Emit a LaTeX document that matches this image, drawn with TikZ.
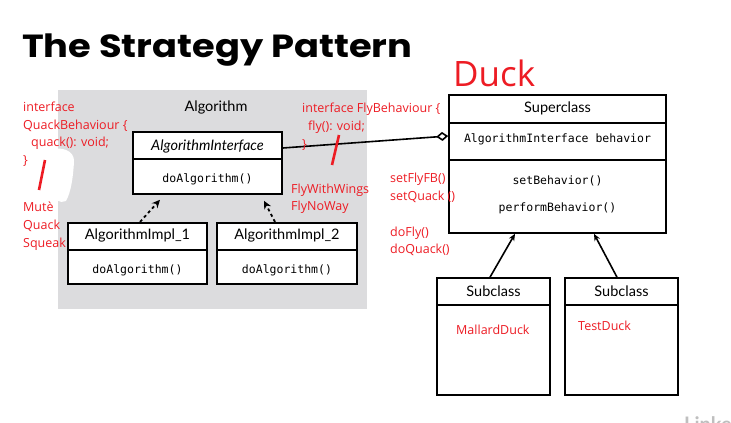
\documentclass[tikz,border=0pt]{standalone}
\usepackage{fontspec}
\setmainfont{Lato}
\newfontfamily\titlefont{Poppins}
\newfontfamily\redfont{Open Sans}
\newfontfamily\monofont{DejaVu Sans Mono}
\usetikzlibrary{arrows.meta,calc}
\definecolor{annot}{RGB}{237,28,36}
\definecolor{panel}{RGB}{220,220,222}
\tikzset{
  box/.style={draw=black,line width=1.6pt,fill=white,inner sep=0pt},
  lbl/.style={font=\fontsize{14.5}{17}\selectfont,inner sep=0pt},
  mono/.style={font=\monofont\fontsize{11.5}{13}\selectfont,inner sep=0pt},
  redtxt/.style={text=annot,font=\redfont\fontsize{12.5}{15}\selectfont,inner sep=0pt,anchor=base west},
  redslash/.style={draw=annot,line width=2.6pt},
  dasharrow/.style={line width=1.8pt,dash pattern=on 3pt off 3pt,-{Stealth[length=8pt,width=7.5pt]}},
  solidarrow/.style={line width=1.6pt,-{Stealth[length=7pt,width=6pt]}},
}
\begin{document}
\begin{tikzpicture}[x=1pt,y=-1pt]
\useasboundingbox (0,0) rectangle (731,423);
% title
\node[anchor=base west,inner sep=0pt,font=\titlefont\bfseries\fontsize{32}{36}\selectfont] (title) at (22,57) {\scalebox{1.15}[1]{The Strategy Pattern}};
% gray panel
\fill[panel] (57.5,90) rectangle (367,309);
% white smear
\fill[white] (50,150) .. controls (60,146) and (75,150) .. (74,162)
  .. controls (73,178) and (71,192) .. (66,201)
  .. controls (60,204) and (53,200) .. (50,190) -- cycle;
\node[lbl] (alg) at (216,107) {Algorithm};
% Algorithm interface
\node[box,minimum width=149pt,minimum height=62pt] (ai) at (207.5,163) {};
\draw[line width=1.6pt] (ai.west |- 0,159) -- (ai.east |- 0,159);
\node[lbl,font=\itshape\fontsize{14.5}{17}\selectfont] (ait) at (207.5,146) {AlgorithmInterface};
\node[mono] (aim) at (207.5,179) {doAlgorithm()};
% impl 1
\node[box,minimum width=139.5pt,minimum height=61.5pt] (i1) at (137.5,253.5) {};
\draw[line width=1.6pt] (i1.west |- 0,250) -- (i1.east |- 0,250);
\node[lbl] (i1t) at (137.5,235) {AlgorithmImpl\_1};
\node[mono] (i1m) at (137.5,270) {doAlgorithm()};
% impl 2
\node[box,minimum width=140pt,minimum height=61.5pt] (i2) at (287,253.5) {};
\draw[line width=1.6pt] (i2.west |- 0,250) -- (i2.east |- 0,250);
\node[lbl] (i2t) at (287,235) {AlgorithmImpl\_2};
\node[mono] (i2m) at (287,270) {doAlgorithm()};
% dashed arrows
\draw[dasharrow] ([xshift=2.5pt]i1.north) -- ([xshift=-47.5pt,yshift=-5pt]ai.south);
\draw[dasharrow] ([xshift=-12pt]i2.north) -- ([xshift=56.5pt,yshift=-6pt]ai.south);
% Superclass
\node[box,minimum width=217pt,minimum height=138pt] (sup) at (557.5,164) {};
\draw[line width=1.6pt] (sup.west |- 0,123) -- (sup.east |- 0,123);
\draw[line width=1.6pt] (sup.west |- 0,160) -- (sup.east |- 0,160);
\node[lbl] (supt) at (557.5,108) {Superclass};
\node[mono] (supa) at (557.5,139) {AlgorithmInterface behavior};
\node[mono] (supb) at (557.5,181) {setBehavior()};
\node[mono] (supc) at (557.5,208) {performBehavior()};
% aggregation
\draw[line width=1.6pt,-{Diamond[open,length=12pt,width=9pt,line width=1.6pt]}] ([yshift=15pt]ai.east) -- ([yshift=28pt]sup.west);
% subclasses
\node[box,minimum width=113pt,minimum height=117pt] (s1) at (493.5,336.5) {};
\draw[line width=1.6pt] (s1.west |- 0,305) -- (s1.east |- 0,305);
\node[lbl] (s1t) at (493.5,291) {Subclass};
\node[box,minimum width=113pt,minimum height=117pt] (s2) at (621.5,336.5) {};
\draw[line width=1.6pt] (s2.west |- 0,305) -- (s2.east |- 0,305);
\node[lbl] (s2t) at (621.5,291) {Subclass};
\draw[solidarrow] ([xshift=-3.5pt]s1.north) -- ([xshift=-42.5pt]sup.south);
\draw[solidarrow] ([xshift=-4.5pt]s2.north) -- ([xshift=36.5pt]sup.south);
% red annotations
\node[text=annot,font=\redfont\fontsize{35}{40}\selectfont,inner sep=0pt,anchor=base west] (duck) at (453,86) {Duck};
\node[redtxt] (q1) at (23,111) {interface};
\node[redtxt] (q2) at (23,129) {QuackBehaviour \{};
\node[redtxt] (q3) at (31,146.5) {quack(): void;};
\node[redtxt] (q4) at (23,164) {\}};
\draw[redslash] (45,160) -- (39,190);
\node[redtxt] (m1) at (23,211.5) {Mutè};
\node[redtxt] (m2) at (23,229.5) {Quack};
\node[redtxt] (m3) at (23,247.5) {Squeak};
\node[redtxt] (f1) at (302,112.5) {interface FlyBehaviour \{};
\node[redtxt] (f2) at (308,130.5) {fly(): void;};
\node[redtxt] (f3) at (302,148) {\}};
\draw[redslash] (339,135) -- (332,165);
\node[redtxt] (w1) at (291,193.5) {FlyWithWings};
\node[redtxt] (w2) at (291,210.5) {FlyNoWay};
\node[redtxt] (c1) at (390,182.5) {setFlyFB()};
\node[redtxt] (c2) at (390,200.5) {setQuack ()};
\node[redtxt] (c3) at (390,236.5) {doFly()};
\node[redtxt] (c4) at (390,253.5) {doQuack()};
\node[redtxt] (md) at (456,334.5) {MallardDuck};
\node[redtxt] (td) at (578,330.5) {TestDuck};
% watermark
\node[anchor=base west,inner sep=0pt,text=black!25,font=\bfseries\fontsize{20}{24}\selectfont] (wm) at (684,431) {Linke};
\end{tikzpicture}
\end{document}
